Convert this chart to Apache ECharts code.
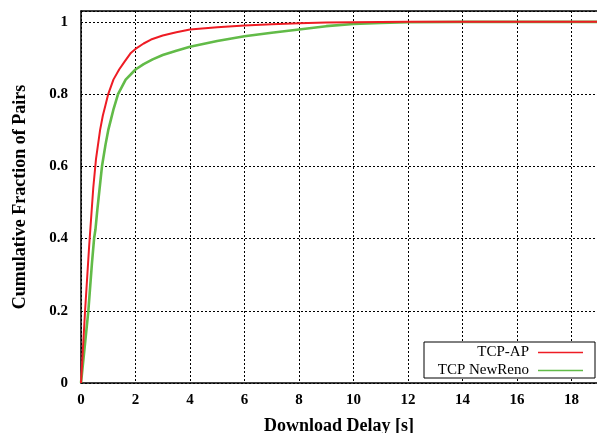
<!DOCTYPE html>
<html>
<head>
<meta charset="utf-8">
<script src="https://cdn.jsdelivr.net/npm/echarts@6/dist/echarts.min.js"></script>
<style>html,body{margin:0;padding:0;background:#fff}#c{width:597px;height:433px}</style>
</head>
<body>
<div id="c"></div>
<script>
const seriesNames = ['TCP-AP', 'TCP NewReno'];
const xTicks = [0, 2, 4, 6, 8, 10, 12, 14, 16, 18];
const yTicks = [0, 0.2, 0.4, 0.6, 0.8, 1];
const apDelay = [0, 0.15, 0.3, 0.45, 0.55, 0.7, 0.8, 0.9, 1.0, 1.19, 1.4, 1.6, 1.83, 2.0, 2.3, 2.57, 3, 3.5, 4, 5, 6, 7, 8, 9, 10, 12, 18.94];
const apFrac  = [0, 0.2, 0.38, 0.54, 0.62, 0.70, 0.74, 0.77, 0.80, 0.84, 0.868, 0.89, 0.914, 0.925, 0.94, 0.951, 0.962, 0.971, 0.979, 0.985, 0.99, 0.993, 0.996, 0.998, 0.999, 1, 1];
const nrDelay = [0, 0.05, 0.27, 0.4, 0.48, 0.53, 0.6, 0.77, 0.9, 1.0, 1.1, 1.2, 1.36, 1.64, 2.0, 2.3, 2.63, 3, 3.5, 4, 5, 6, 7, 8, 9, 10, 11, 12, 14, 18.94];
const nrFrac  = [0, 0, 0.2, 0.33, 0.4, 0.425, 0.48, 0.6, 0.66, 0.70, 0.73, 0.76, 0.80, 0.84, 0.868, 0.883, 0.896, 0.908, 0.92, 0.931, 0.947, 0.96, 0.97, 0.979, 0.988, 0.994, 0.997, 0.999, 1, 1];

const font = 'Liberation Serif, Times New Roman, serif';
const pair = (xs, ys) => xs.map((x, i) => [x, ys[i]]);
const isTick = (v, arr) => arr.some(t => Math.abs(t - v) < 1e-6);

const chart = echarts.init(document.getElementById('c'), null, {renderer: 'canvas'});
chart.setOption({
  animation: false,
  backgroundColor: '#fff',
  grid: {left: 81, right: 0, top: 11, bottom: 50, containLabel: false, outerBoundsMode: 'none'},
  xAxis: [{
    type: 'value', min: 0, max: 18.94, interval: 2,
    name: 'Download Delay [s]', nameLocation: 'middle', nameGap: 34,
    nameTextStyle: {fontFamily: font, fontWeight: 'bold', fontSize: 18, color: '#000'},
    axisLine: {show: true, onZero: false, lineStyle: {color: '#000', width: 1.5}},
    axisTick: {show: false},
    axisLabel: {margin: 10, fontFamily: font, fontWeight: 'bold', fontSize: 15, color: '#000',
      formatter: v => isTick(v, xTicks) ? String(v) : ''},
    splitLine: {show: true, lineStyle: {color: '#000', type: [2, 2], width: 1}}
  }, {
    type: 'value', position: 'top', min: 0, max: 18.94,
    axisLine: {show: true, onZero: false, lineStyle: {color: '#000', width: 1.5}},
    axisTick: {show: false}, axisLabel: {show: false}, splitLine: {show: false}
  }],
  yAxis: {
    type: 'value', min: 0, max: 1.03, interval: 0.2,
    name: 'Cumulative Fraction of Pairs', nameLocation: 'middle', nameGap: 52,
    nameTextStyle: {fontFamily: font, fontWeight: 'bold', fontSize: 18, color: '#000'},
    axisLine: {show: true, onZero: false, lineStyle: {color: '#000', width: 1.5}},
    axisTick: {show: false},
    axisLabel: {margin: 13, fontFamily: font, fontWeight: 'bold', fontSize: 15, color: '#000',
      formatter: v => isTick(v, yTicks) ? String(+v.toFixed(1)) : ''},
    splitLine: {show: true, lineStyle: {color: '#000', type: [2, 2], width: 1}}
  },
  legend: {
    orient: 'vertical', right: 2, bottom: 55, align: 'right',
    backgroundColor: '#fff', borderColor: '#000', borderWidth: 1,
    padding: [3, 12, 0, 9], itemGap: 3, itemWidth: 45, itemHeight: 1.6,
    icon: 'rect',
    textStyle: {fontFamily: font, fontSize: 15, color: '#000', width: 96, align: 'right', lineHeight: 14, padding: [0, 4, 0, 0]},
    data: seriesNames
  },
  series: [{
    name: seriesNames[0], type: 'line', data: pair(apDelay, apFrac),
    showSymbol: false, symbol: 'none', smooth: false, z: 3,
    lineStyle: {color: '#ee1c24', width: 2}, itemStyle: {color: '#ee1c24'}
  }, {
    name: seriesNames[1], type: 'line', data: pair(nrDelay, nrFrac),
    showSymbol: false, symbol: 'none', smooth: false, z: 2,
    lineStyle: {color: '#62bb48', width: 2.6}, itemStyle: {color: '#62bb48'}
  }]
});
</script>
</body>
</html>
